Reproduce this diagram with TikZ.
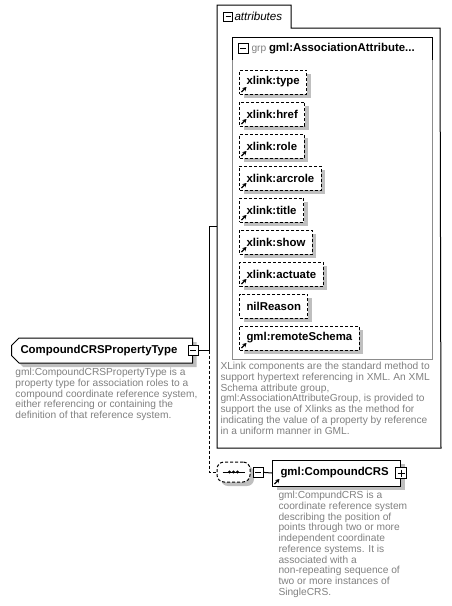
\documentclass[tikz,border=0pt]{standalone}
\usepackage{fontspec}
\setmainfont{Liberation Sans}
\usetikzlibrary{shapes.misc, shadows, arrows.meta, positioning}
\definecolor{descgray}{RGB}{128,128,128}
\definecolor{framegray}{RGB}{140,140,140}
\tikzset{
    elem/.style={draw, fill=white, font=\fontsize{11.4}{13}\selectfont\bfseries,
                 minimum height=24, inner xsep=7,
                 drop shadow={shadow xshift=4pt, shadow yshift=-4pt, fill=black!25, opacity=1}},
    optbox/.style={dash pattern=on 3pt off 2pt},
    attrbox/.style={elem, optbox, anchor=west},
    ctype/.style={elem, chamfered rectangle, chamfered rectangle corners={north west, south west},
                  chamfered rectangle xsep=4pt, minimum height=25, align=left},
    minusbox/.style={draw, fill=white, minimum size=10, inner sep=0pt,
                     path picture={\draw ([xshift=2pt]path picture bounding box.west)
                                   -- ([xshift=-2pt]path picture bounding box.east);}},
    plusbox/.style={draw, fill=white, minimum size=10, inner sep=0pt,
                    path picture={\draw ([xshift=2pt]path picture bounding box.west)
                                  -- ([xshift=-2pt]path picture bounding box.east);
                                  \draw ([yshift=-2pt]path picture bounding box.north)
                                  -- ([yshift=2pt]path picture bounding box.south);}},
    refmark/.style={-{Stealth[length=4pt, width=4.5pt]}, line width=1.3pt, solid},
    desc/.style={anchor=north west, align=left, inner sep=0pt, text=descgray,
                 font=\fontsize{10.2}{10.7}\selectfont},
}

\begin{document}
\begin{tikzpicture}[x=1pt, y=-1pt, line width=1pt]
    \useasboundingbox (0,0) rectangle (451,606);

    % attributes frame with tab
    \node[minimum width=223, minimum height=442, anchor=north west, inner sep=0pt] (attrs) at (217,5) {};
    \draw (attrs.south west) -- (attrs.north west) -- (291,5) -- (291,28) -- (440,28)
        -- (attrs.south east) -- cycle;
    \node[minusbox, minimum size=9] (attrsm) at (228,16.5) {};
    \node[anchor=west, inner sep=0pt, font=\fontsize{11.6}{13}\selectfont\itshape] (attrst)
        at (234,16.5) {attributes};

    % attribute group
    \draw[framegray] (232,37) rectangle (432,359);
    \draw (232,60) |- (432,37) -- (432,60);
    \node[minusbox] (grpm) at (243,48.5) {};
    \node[anchor=west, inner sep=0pt] (grpt) at (251,48.5)
        {{\fontsize{10.2}{12}\selectfont\color{descgray}grp}\ %
         {\fontsize{11.4}{13}\selectfont\bfseries gml:AssociationAttribute...}};

    \foreach \nm [count=\i from 0] in {type,href,role,arcrole,title,show,actuate} {
        \node[attrbox] (xl-\nm) at (239,82+32*\i) {xlink:\nm};
        \draw[refmark] ([shift={(2.5,-2.5)}]xl-\nm.south west) -- ++(5,-5);
    }
    \node[attrbox] (nilr) at (239,306) {nilReason};
    \node[attrbox] (rschema) at (239,338) {gml:remoteSchema};
    \draw[refmark] ([shift={(2.5,-2.5)}]rschema.south west) -- ++(5,-5);

    \node[desc] (attrsd) at (220,362)
        {XLink components are the standard method to\\
         support hypertext referencing in XML. An XML\\
         Schema attribute group,\\
         gml:AssociationAttributeGroup, is provided to\\
         support the use of Xlinks as the method for\\
         indicating the value of a property by reference\\
         in a uniform manner in GML.};

    % complex type
    \node[ctype, text width=163, inner xsep=5, anchor=west] (ctype) at (11,350.5)
        {CompoundCRSPropertyType};
    \node[minusbox] (ctypem) at (ctype.east) {};
    \node[desc] (ctyped) at (15,368)
        {gml:CompoundCRSPropertyType is a\\
         property type for association roles to a\\
         compound coordinate reference system,\\
         either referencing or containing the\\
         definition of that reference system.};

    % sequence
    \node[elem, optbox, minimum width=33, minimum height=20, rounded corners=7] (seq) at (233.5,472) {};
    \draw (seq.center) ++(-11,0) -- ++(22,0);
    \foreach \dx in {-4,0,4}
        \fill ([xshift=\dx pt]seq.center) circle (1.6);
    \node[minusbox, right=2pt of seq] (seqm) {};

    % element
    \node[elem, text width=112, inner xsep=8, minimum height=26, align=left, anchor=west] (crs)
        at (272,473) {gml:CompoundCRS};
    \draw[refmark] ([shift={(2.5,-2.5)}]crs.south west) -- ++(5,-5);
    \node[plusbox, minimum size=11] (crsp) at (crs.east) {};
    \node[desc] (crsd) at (278,491)
        {gml:CompundCRS is a\\
         coordinate reference system\\
         describing the position of\\
         points through two or more\\
         independent coordinate\\
         reference systems. It is\\
         associated with a\\
         non-repeating sequence of\\
         two or more instances of\\
         SingleCRS.};

    % connectors
    \coordinate (junc) at ([xshift=11pt]ctypem.east);
    \draw (ctypem) -- (junc) |- (attrs.west);
    \draw[optbox] (junc) |- (seq.west);
    \draw (seqm) -- (crs.west);

\end{tikzpicture}
\end{document}
